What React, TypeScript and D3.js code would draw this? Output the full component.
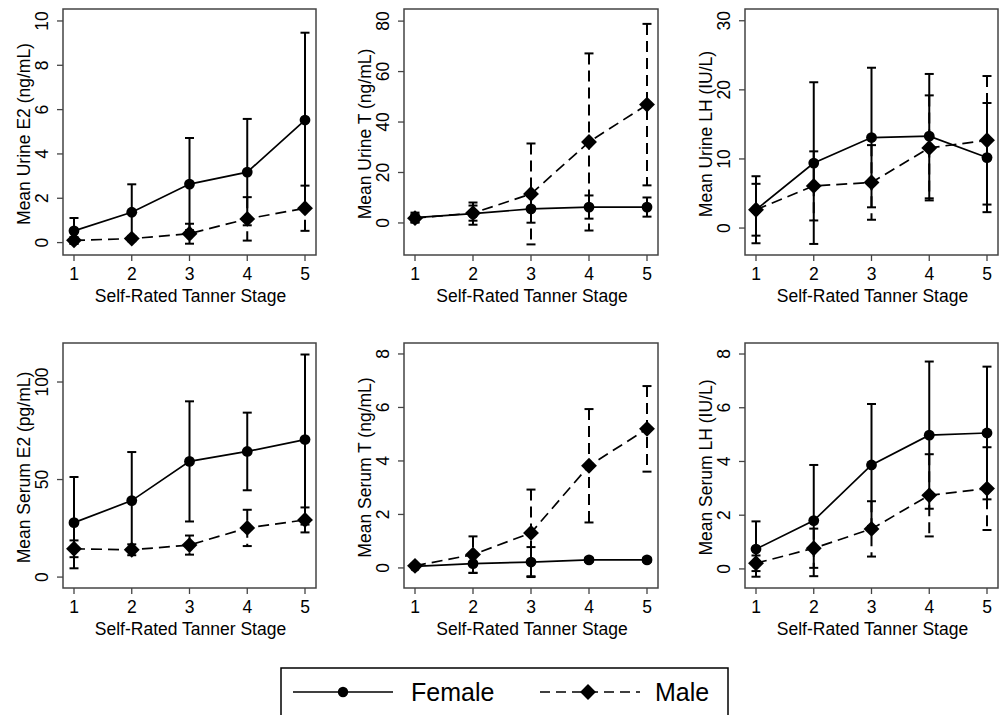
import React, { useEffect, useRef } from 'react';
import * as d3 from 'd3';

const stages = [1, 2, 3, 4, 5];

const urineE2Ticks = [0, 2, 4, 6, 8, 10];
const urineTTicks = [0, 20, 40, 60, 80];
const urineLHTicks = [0, 10, 20, 30];
const serumE2Ticks = [0, 50, 100];
const serumTTicks = [0, 2, 4, 6, 8];
const serumLHTicks = [0, 2, 4, 6, 8];

// mean and SD per stage
const urineE2FemaleMean = [0.53, 1.37, 2.64, 3.18, 5.53];
const urineE2FemaleSd = [0.58, 1.26, 2.08, 2.4, 3.94];
const urineE2MaleMean = [0.1, 0.18, 0.4, 1.07, 1.55];
const urineE2MaleSd = [0.15, 0.12, 0.45, 0.98, 1.02];

const urineTFemaleMean = [2.1, 3.7, 5.6, 6.3, 6.3];
const urineTFemaleSd = [2.0, 4.4, 5.5, 4.6, 3.8];
const urineTMaleMean = [1.9, 3.9, 11.5, 32.1, 46.9];
const urineTMaleSd = [1.5, 3.0, 20, 35.1, 32];

const urineLHFemaleMean = [2.65, 9.4, 13.1, 13.3, 10.2];
const urineLHFemaleSd = [4.85, 11.7, 10.1, 9.0, 7.9];
const urineLHMaleMean = [2.65, 6.1, 6.6, 11.6, 12.7];
const urineLHMaleSd = [3.75, 5.0, 5.4, 7.6, 9.3];

const serumE2FemaleMean = [27.9, 39.2, 59.3, 64.4, 70.5];
const serumE2FemaleSd = [23.4, 24.9, 30.8, 19.9, 43.6];
const serumE2MaleMean = [14.5, 14.0, 16.4, 25.2, 29.3];
const serumE2MaleSd = [4.3, 2.8, 4.9, 9.3, 6.4];

const serumTFemaleMean = [0.06, 0.16, 0.22, 0.3, 0.3];
const serumTFemaleSd = [0.05, 0.35, 0.56, 0.08, 0.08];
const serumTMaleMean = [0.08, 0.5, 1.31, 3.82, 5.2];
const serumTMaleSd = [0.06, 0.68, 1.62, 2.12, 1.6];

const serumLHFemaleMean = [0.74, 1.8, 3.87, 4.98, 5.06];
const serumLHFemaleSd = [1.03, 2.07, 2.27, 2.74, 2.47];
const serumLHMaleMean = [0.21, 0.77, 1.49, 2.74, 2.99];
const serumLHMaleSd = [0.29, 0.73, 1.03, 1.53, 1.54];

const panels = [
	{ title: 'Mean Urine E2 (ng/mL)', ticks: urineE2Ticks, domain: [-0.56, 10.54], box: [63, 9, 316, 255], fm: urineE2FemaleMean, fs: urineE2FemaleSd, mm: urineE2MaleMean, ms: urineE2MaleSd },
	{ title: 'Mean Urine T (ng/mL)', ticks: urineTTicks, domain: [-12.7, 84.8], box: [404, 9, 658, 255], fm: urineTFemaleMean, fs: urineTFemaleSd, mm: urineTMaleMean, ms: urineTMaleSd },
	{ title: 'Mean Urine LH (IU/L)', ticks: urineLHTicks, domain: [-3.9, 31.7], box: [745, 9, 998, 255], fm: urineLHFemaleMean, fs: urineLHFemaleSd, mm: urineLHMaleMean, ms: urineLHMaleSd },
	{ title: 'Mean Serum E2 (pg/mL)', ticks: serumE2Ticks, domain: [-5.6, 120], box: [63, 343, 316, 588], fm: serumE2FemaleMean, fs: serumE2FemaleSd, mm: serumE2MaleMean, ms: serumE2MaleSd },
	{ title: 'Mean Serum T (ng/mL)', ticks: serumTTicks, domain: [-0.75, 8.41], box: [404, 343, 658, 588], fm: serumTFemaleMean, fs: serumTFemaleSd, mm: serumTMaleMean, ms: serumTMaleSd },
	{ title: 'Mean Serum LH (IU/L)', ticks: serumLHTicks, domain: [-0.71, 8.41], box: [745, 343, 998, 588], fm: serumLHFemaleMean, fs: serumLHFemaleSd, mm: serumLHMaleMean, ms: serumLHMaleSd },
];

const FONT = '"Liberation Sans", Arial, Helvetica, sans-serif';
const DASH = '11,6';
const diamond = d3.symbol().type(d3.symbolDiamond2 || d3.symbolDiamond).size(160);

const App = () => {
	const ref = useRef<SVGSVGElement>(null);

	useEffect(() => {
		const svg = d3.select(ref.current);
		svg.selectAll('*').remove();

		panels.forEach((p) => {
			const [x0, y0, x1, y1] = p.box;
			const x = d3.scaleLinear().domain([1, 5]).range([x0 + 11, x1 - 11]);
			const y = d3.scaleLinear().domain(p.domain).range([y1, y0]);
			const g = svg.append('g');

			g.append('rect')
				.attr('x', x0).attr('y', y0)
				.attr('width', x1 - x0).attr('height', y1 - y0)
				.attr('fill', 'none').attr('stroke', '#444').attr('stroke-width', 1.5);

			// y axis
			p.ticks.forEach((t) => {
				g.append('line')
					.attr('x1', x0 - 6).attr('x2', x0)
					.attr('y1', y(t)).attr('y2', y(t))
					.attr('stroke', '#444').attr('stroke-width', 1.3);
				g.append('text')
					.attr('transform', `translate(${x0 - 15},${y(t)}) rotate(-90)`)
					.attr('text-anchor', 'middle')
					.attr('font-family', FONT).attr('font-size', 17.5)
					.text(t);
			});
			g.append('text')
				.attr('transform', `translate(${x0 - 33},${(y0 + y1) / 2 + 2}) rotate(-90)`)
				.attr('text-anchor', 'middle')
				.attr('font-family', FONT).attr('font-size', 17.5)
				.text(p.title);

			// x axis
			stages.forEach((s) => {
				g.append('line')
					.attr('x1', x(s)).attr('x2', x(s))
					.attr('y1', y1).attr('y2', y1 + 6)
					.attr('stroke', '#444').attr('stroke-width', 1.3);
				g.append('text')
					.attr('x', x(s)).attr('y', y1 + 25)
					.attr('text-anchor', 'middle')
					.attr('font-family', FONT).attr('font-size', 17.5)
					.text(s);
			});
			g.append('text')
				.attr('x', (x0 + x1) / 2 + 1).attr('y', y1 + 47)
				.attr('text-anchor', 'middle')
				.attr('font-family', FONT).attr('font-size', 17.5)
				.text('Self-Rated Tanner Stage');

			const series = [
				{ mean: p.fm, sd: p.fs, dash: null, marker: 'circle' },
				{ mean: p.mm, sd: p.ms, dash: DASH, marker: 'diamond' },
			];

			series.forEach((sr) => {
				const sg = g.append('g');
				stages.forEach((s, i) => {
					const lo = y(sr.mean[i] - sr.sd[i]);
					const hi = y(sr.mean[i] + sr.sd[i]);
					sg.append('line')
						.attr('x1', x(s)).attr('x2', x(s))
						.attr('y1', hi).attr('y2', lo)
						.attr('stroke', '#000').attr('stroke-width', 2)
						.attr('stroke-dasharray', sr.dash);
					[lo, hi].forEach((cy) => {
						sg.append('line')
							.attr('x1', x(s) - 4.5).attr('x2', x(s) + 4.5)
							.attr('y1', cy).attr('y2', cy)
							.attr('stroke', '#000').attr('stroke-width', 2);
					});
				});
				const line = d3.line<number>().x((d, i) => x(stages[i])).y((d) => y(d));
				sg.append('path')
					.attr('d', line(sr.mean))
					.attr('fill', 'none').attr('stroke', '#000').attr('stroke-width', 1.7)
					.attr('stroke-dasharray', sr.dash);
				stages.forEach((s, i) => {
					if (sr.marker === 'circle') {
						sg.append('circle')
							.attr('cx', x(s)).attr('cy', y(sr.mean[i])).attr('r', 5.4)
							.attr('fill', '#000');
					} else {
						sg.append('path')
							.attr('d', diamond())
							.attr('transform', `translate(${x(s)},${y(sr.mean[i])})`)
							.attr('fill', '#000');
					}
				});
			});
		});

		// legend
		const lg = svg.append('g');
		lg.append('rect')
			.attr('x', 281).attr('y', 668).attr('width', 447).attr('height', 80)
			.attr('fill', '#fff').attr('stroke', '#000').attr('stroke-width', 1.5);
		lg.append('line')
			.attr('x1', 293).attr('x2', 393).attr('y1', 692).attr('y2', 692)
			.attr('stroke', '#000').attr('stroke-width', 1.6);
		lg.append('circle').attr('cx', 343).attr('cy', 692).attr('r', 5.2).attr('fill', '#000');
		lg.append('text')
			.attr('x', 411).attr('y', 701)
			.attr('font-family', FONT).attr('font-size', 25)
			.text('Female');
		lg.append('line')
			.attr('x1', 540).attr('x2', 640).attr('y1', 692).attr('y2', 692)
			.attr('stroke', '#000').attr('stroke-width', 1.6)
			.attr('stroke-dasharray', '10,6');
		lg.append('path')
			.attr('d', diamond())
			.attr('transform', 'translate(588,692)')
			.attr('fill', '#000');
		lg.append('text')
			.attr('x', 655).attr('y', 701)
			.attr('font-family', FONT).attr('font-size', 25)
			.text('Male');
	}, []);

	return (
		<svg
			ref={ref}
			width={1005}
			height={715}
			style={{ position: 'absolute', left: 0, top: 0, background: '#fff' }}
		/>
	);
};

export default App;
